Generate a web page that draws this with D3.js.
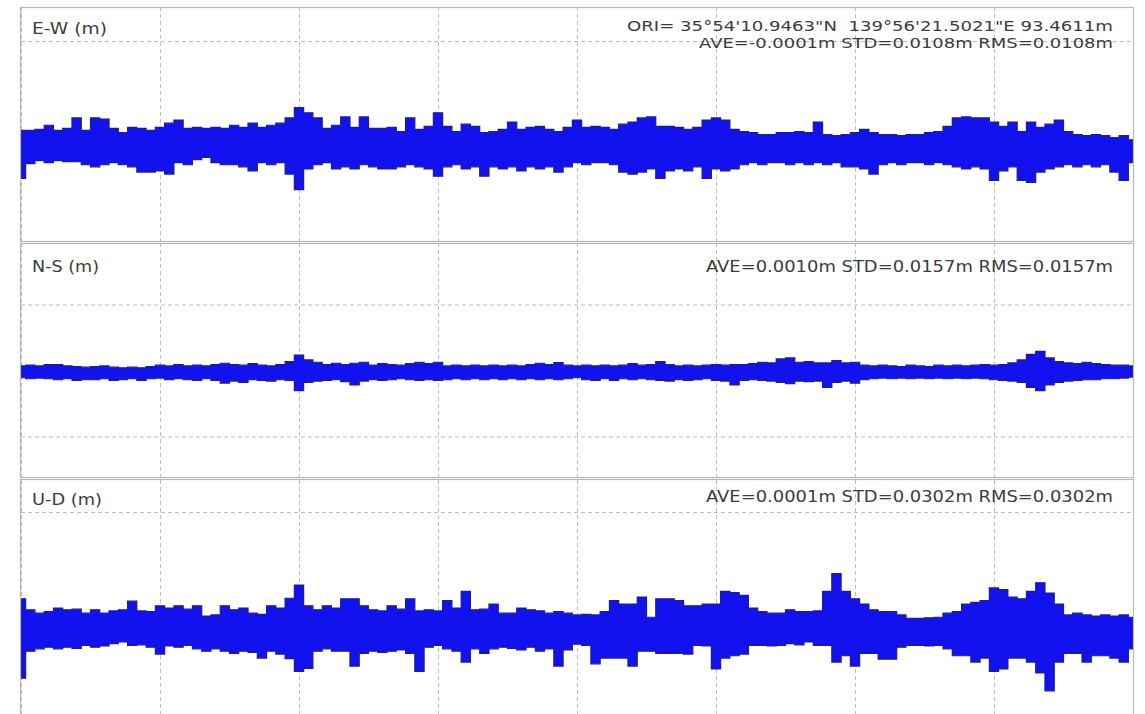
<!DOCTYPE html>
<html><head><meta charset="utf-8">
<script src="https://cdn.jsdelivr.net/npm/d3@7"></script>
<style>body{margin:0;background:#fff} svg{display:block} text{white-space:pre}</style>
</head><body><svg id="c" width="1145" height="714"></svg>
<script>
// ---------------- DATA (values in millimetres, epochs every 0.2 h) ----------------
const epochStepH = 0.2;
const xTicksH = [0, 3, 6, 9, 12, 15, 18, 21, 24];

const ewUpper = [14,14,15,19,14,16,26,14,26,25,16,12,17,16,14,17,21,24,16,17,16,17,16,19,17,21,17,19,21,26,36,31,26,16,19,27,17,27,16,16,17,13,26,15,18,31,18,13,20,18,12,13,15,22,15,17,18,15,13,17,24,17,18,17,15,20,22,26,27,18,18,17,15,17,24,26,24,15,13,12,10,10,12,12,13,12,22,10,9,10,12,15,12,10,10,9,10,10,12,13,18,26,27,26,26,22,18,22,13,22,17,20,24,13,10,9,10,9,7,9,5];
const ewLower = [-32,-18,-15,-17,-15,-16,-16,-19,-21,-19,-17,-19,-21,-26,-26,-25,-28,-17,-19,-14,-12,-17,-19,-19,-21,-25,-17,-19,-17,-28,-43,-23,-19,-17,-23,-21,-23,-19,-21,-23,-23,-21,-19,-21,-23,-30,-21,-19,-23,-21,-30,-21,-23,-21,-25,-21,-23,-21,-26,-21,-17,-19,-17,-17,-19,-26,-28,-26,-23,-32,-25,-23,-25,-21,-32,-23,-25,-23,-19,-17,-19,-17,-17,-19,-17,-19,-17,-19,-17,-21,-21,-23,-28,-19,-17,-19,-17,-17,-19,-17,-19,-21,-23,-21,-23,-34,-25,-21,-34,-36,-26,-23,-21,-19,-21,-19,-21,-19,-26,-34,-17];

const nsUpper = [14,16,14,18,18,14,12,10,12,14,10,8,10,8,12,16,14,18,14,16,14,18,22,18,16,21,16,14,18,27,47,32,25,18,22,18,22,25,16,21,18,16,21,25,21,25,14,16,14,16,14,16,14,16,14,18,22,18,24,16,14,16,14,16,14,16,21,16,18,27,18,14,16,14,16,18,16,18,18,21,25,23,35,38,25,27,23,23,30,23,25,16,14,16,14,12,16,14,12,16,14,16,14,16,18,16,18,23,32,49,58,38,27,23,21,25,21,18,16,16,14];
const nsLower = [-22,-25,-23,-25,-28,-25,-30,-28,-28,-25,-30,-28,-25,-30,-25,-23,-28,-25,-28,-30,-25,-30,-38,-32,-36,-28,-30,-32,-28,-30,-61,-36,-32,-30,-28,-34,-44,-32,-28,-30,-28,-25,-28,-30,-28,-30,-28,-25,-28,-25,-28,-25,-28,-25,-28,-25,-28,-25,-28,-25,-22,-28,-30,-25,-30,-25,-28,-25,-28,-30,-32,-28,-30,-28,-25,-30,-32,-44,-30,-28,-30,-32,-36,-40,-32,-34,-32,-51,-36,-32,-38,-28,-25,-23,-25,-23,-25,-23,-25,-23,-25,-23,-25,-23,-25,-28,-30,-32,-36,-51,-61,-44,-36,-32,-30,-28,-28,-25,-25,-23,-20];

const udUpper = [49,30,24,27,33,30,31,24,30,24,28,30,45,28,27,37,33,37,31,37,19,21,37,30,33,24,22,37,33,50,73,37,30,37,33,49,49,37,30,28,37,31,49,28,30,28,46,33,62,30,31,40,24,24,33,30,28,24,27,24,21,22,21,27,46,40,40,52,17,49,49,46,37,37,40,40,62,60,55,33,27,24,24,30,27,27,28,62,93,62,49,40,30,27,27,21,15,15,16,17,24,27,40,43,46,68,65,52,49,62,77,59,40,21,24,21,19,21,19,21,17];
const udLower = [-89,-42,-38,-35,-38,-35,-37,-32,-35,-33,-29,-26,-32,-31,-35,-47,-33,-35,-32,-38,-42,-38,-42,-46,-42,-44,-54,-42,-47,-55,-77,-72,-42,-38,-42,-42,-68,-46,-42,-44,-42,-40,-46,-77,-35,-32,-38,-42,-61,-38,-46,-38,-35,-37,-40,-35,-42,-38,-68,-40,-30,-32,-64,-54,-54,-54,-68,-42,-42,-46,-46,-46,-47,-32,-33,-73,-54,-50,-47,-32,-32,-33,-32,-29,-31,-26,-32,-32,-61,-50,-68,-46,-46,-56,-56,-35,-32,-32,-33,-32,-38,-50,-50,-61,-54,-77,-73,-54,-54,-61,-80,-111,-61,-46,-46,-61,-50,-50,-54,-61,-38];

const panelLabels = ["E-W (m)", "N-S (m)", "U-D (m)"];
const oriText = "ORI= 35°54'10.9463\"N  139°56'21.5021\"E 93.4611m";
const statTexts = [
  "AVE=-0.0001m STD=0.0108m RMS=0.0108m",
  "AVE=0.0010m STD=0.0157m RMS=0.0157m",
  "AVE=0.0001m STD=0.0302m RMS=0.0302m"
];
const yTicksMM = [[-100, 0, 100], [-200, 0, 200], [-200, 0, 200]];

// ---------------- LAYOUT ----------------
const left = 21, right = 1133;
const panels = [
  {top: 7,   bottom: 242, zeroY: 145,   pxPerMM: 1.04,  up: ewUpper, lo: ewLower,
   labelBase: 34, labelLen: 75, statX: 699, statBase: 48, statLen: 414, statSize: 14},
  {top: 243, bottom: 478, zeroY: 370.5, pxPerMM: 0.33,  up: nsUpper, lo: nsLower,
   labelBase: 271.5, labelLen: 67, statX: 706, statBase: 271.5, statLen: 407, statSize: 15.5},
  {top: 479, bottom: 715, zeroY: 627,   pxPerMM: 0.575, up: udUpper, lo: udLower,
   labelBase: 505, labelLen: 70, statX: 706, statBase: 502, statLen: 407, statSize: 15.5}
];

const svg = d3.select("#c");
const x = d3.scaleLinear().domain([0, 24]).range([left, right]);
const FONT = "DejaVu Sans, Verdana, sans-serif";
const TXT = "#3c3c3c";

panels.forEach((p, pi) => {
  const y = d3.scaleLinear()
    .domain([-(p.bottom - p.zeroY) / p.pxPerMM, (p.zeroY - p.top) / p.pxPerMM])
    .range([p.bottom, p.top]);
  const g = svg.append("g");
  const clipId = "clip" + pi;
  svg.append("clipPath").attr("id", clipId)
    .append("rect").attr("x", left).attr("y", p.top).attr("width", right - left).attr("height", p.bottom - p.top);

  // vertical grid
  const gx = g.append("g").attr("transform", `translate(0,${p.bottom})`)
    .call(d3.axisBottom(x).tickValues(xTicksH).tickSize(-(p.bottom - p.top)).tickFormat(""));
  // horizontal grid
  const gy = g.append("g").attr("transform", `translate(${left},0)`)
    .call(d3.axisLeft(y).tickValues(yTicksMM[pi].filter(v => y(v) > p.top + 1 && y(v) < p.bottom - 1))
      .tickSize(-(right - left)).tickFormat(""));
  [gx, gy].forEach(a => {
    a.select(".domain").remove();
    a.selectAll("line").attr("stroke", "#bdbdbd").attr("stroke-width", 1).attr("stroke-dasharray", "4,3");
  });

  // data band
  const series = p.up.map((u, i) => ({t: i * epochStepH, u: u, l: p.lo[i]}));
  const area = d3.area().curve(d3.curveStep)
    .x(d => x(d.t)).y0(d => y(d.l)).y1(d => y(d.u));
  g.append("path").datum(series).attr("clip-path", `url(#${clipId})`)
    .attr("d", area).attr("fill", "#1212ee").attr("stroke", "#1c1c9a").attr("stroke-width", 1.2)
    .attr("stroke-linejoin", "miter");

  // frame
  g.append("rect").attr("x", left - 0.5).attr("y", p.top + 0.5)
    .attr("width", right - left + 1).attr("height", p.bottom - p.top - 1)
    .attr("fill", "none").attr("stroke", "#b8b8b8").attr("stroke-width", 1.2);

  // texts
  g.append("text").attr("x", 32).attr("y", p.labelBase).attr("font-family", FONT).attr("font-size", 15.5)
    .attr("fill", TXT).attr("textLength", p.labelLen).attr("lengthAdjust", "spacingAndGlyphs").text(panelLabels[pi]);
  g.append("text").attr("x", p.statX).attr("y", p.statBase).attr("font-family", FONT).attr("font-size", p.statSize)
    .attr("fill", TXT).attr("textLength", p.statLen).attr("lengthAdjust", "spacingAndGlyphs").text(statTexts[pi]);
  if (pi === 0) {
    g.append("text").attr("x", 627).attr("y", 31).attr("font-family", FONT).attr("font-size", 14)
      .attr("fill", TXT).attr("textLength", 486).attr("lengthAdjust", "spacingAndGlyphs").text(oriText);
  }
});
</script></body></html>
